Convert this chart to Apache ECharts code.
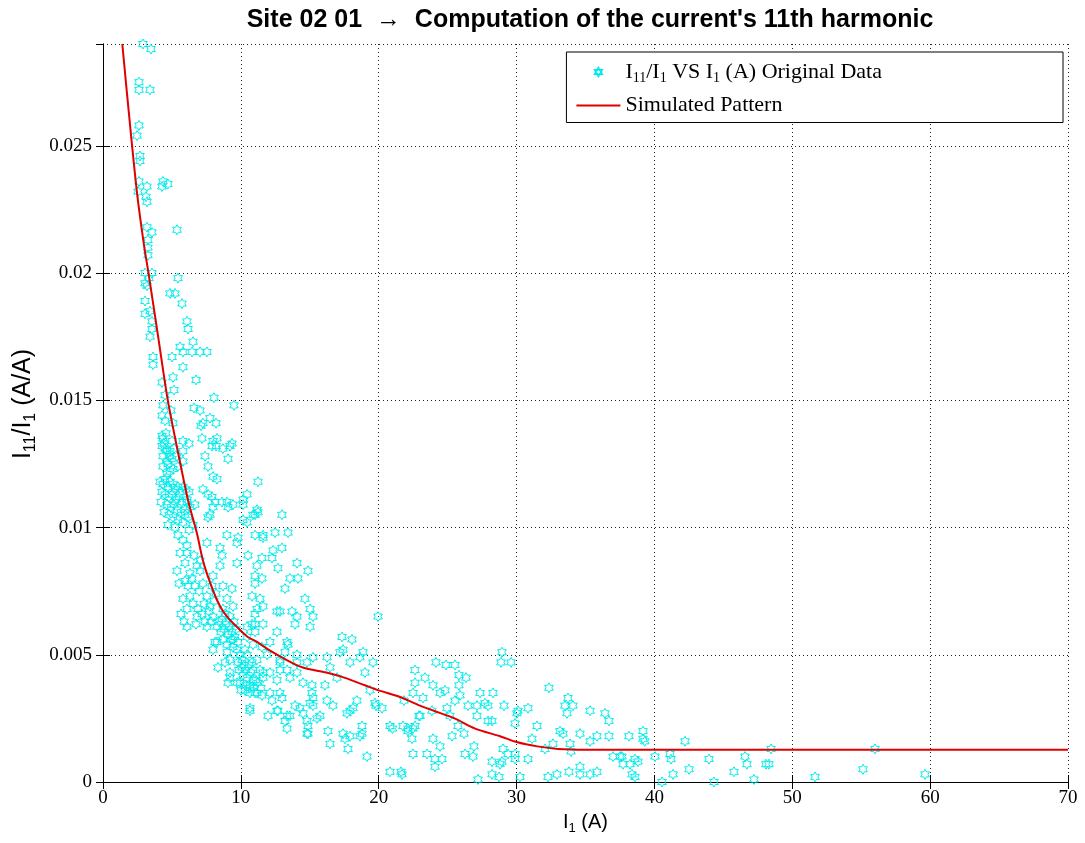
<!DOCTYPE html>
<html><head><meta charset="utf-8">
<script src="https://cdn.jsdelivr.net/npm/echarts@6/dist/echarts.min.js"></script>
<style>html,body{margin:0;padding:0;background:#fff}#chart{width:1085px;height:843px}</style>
</head><body><div id="chart"></div>
<script>
const titleText = 'Site 02 01  \u2192  Computation of the current\'s 11th harmonic';
const seriesOriginal = 'I11/I1 VS I1 (A) Original Data';
const seriesSimulated = 'Simulated Pattern';
const xMin = 0, xMax = 70, xStep = 10;
const yMin = 0, yMax = 0.029, yStep = 0.005;

// Original data: [I1 (A), I11/I1]
const originalData = [
[2.90,0.0290],[3.48,0.0288],[2.61,0.0275],[2.61,0.0272],[3.41,0.0272],[2.61,0.0258],[2.47,0.0254],[2.68,0.0246],[2.68,0.0244],[2.61,0.0236],[3.19,0.0234],[2.54,0.0232],[4.35,0.0236],[4.71,0.0235],[4.28,0.0234],[3.12,0.0230],[3.19,0.0228],[3.19,0.0218],[3.55,0.0216],[5.37,0.0217],[3.26,0.0213],[3.26,0.0210],[3.26,0.0207],[3.05,0.0200],[3.55,0.0200],[5.44,0.0198],[3.19,0.0195],
[3.05,0.0196],[3.34,0.0198],[4.86,0.0192],[5.22,0.0192],[3.05,0.0189],[3.05,0.0184],[3.41,0.0185],[5.73,0.0188],[3.55,0.0181],[3.55,0.0178],[6.09,0.0181],[6.17,0.0178],[3.41,0.0175],[6.53,0.0173],[5.59,0.0171],[5.80,0.0169],[6.46,0.0169],[7.04,0.0169],[7.54,0.0169],[3.63,0.0167],[5.01,0.0167],[3.63,0.0164],[5.80,0.0163],[5.08,0.0159],[6.75,0.0158],[4.28,0.0157],[5.15,0.0154],[4.50,0.0152],[8.05,0.0151],[4.35,0.0148],[4.93,0.0146],[6.60,0.0147],[7.04,0.0146],[9.50,0.0148],[4.28,0.0144],[4.50,0.0142],[5.08,0.0141],[7.76,0.0143],[8.20,0.0141],[7.11,0.0140],[7.25,0.0141],[4.28,0.0136],[4.35,0.0135],[4.28,0.0132],[4.50,0.0131],[4.64,0.0130],[5.80,0.0134],[6.24,0.0133],[7.18,0.0135],[7.98,0.0134],[8.27,0.0135],[7.91,0.0132],[8.20,0.0132],[8.70,0.0131],[9.21,0.0132],[9.36,0.0133],[9.07,0.0127],[7.40,0.0128],[7.62,0.0124],[7.98,0.0120],[8.27,0.0119],[4.35,0.0128],[4.64,0.0126],[4.71,0.0125],[4.86,0.0130],[5.01,0.0127],[5.37,0.0128],[5.80,0.0126],[5.44,0.0124],[4.35,0.0124],[4.64,0.0121],[5.08,0.0123],[5.80,0.0130],[11.24,0.0118],[7.25,0.0115],[7.62,0.0113],[7.91,0.0112],[8.12,0.0110],[8.63,0.0110],[8.99,0.0110],[9.43,0.0109],[9.07,0.0108],[10.45,0.0113],[10.16,0.0111],[11.17,0.0107],[10.88,0.0105],[7.62,0.0104],[6.67,0.0109],[10.16,0.0103],[10.45,0.0102],
[4.43,0.0133],[4.79,0.0128],[5.15,0.0131],[4.57,0.0137],[5.01,0.0134],[4.86,0.0122],
[4.13,0.0118],[4.35,0.0117],[4.50,0.0119],[4.71,0.0116],[4.86,0.0118],[5.08,0.0117],[5.22,0.0115],[5.44,0.0116],[5.59,0.0114],[5.80,0.0116],[6.02,0.0115],[6.24,0.0114],[4.28,0.0114],[4.50,0.0113],[4.79,0.0112],[5.01,0.0113],[5.30,0.0111],[5.52,0.0112],[5.73,0.0110],[6.09,0.0111],[4.21,0.0110],[4.64,0.0109],[4.93,0.0108],[5.15,0.0109],[5.37,0.0107],[5.66,0.0106],[5.95,0.0107],[6.31,0.0108],[4.43,0.0106],[4.79,0.0105],[5.08,0.0104],[5.44,0.0103],[5.80,0.0102],[6.17,0.0104],[4.71,0.0101],[5.22,0.0100],[6.53,0.0101],[6.24,0.0099],
[5.95,0.0105],[6.09,0.0110],[7.98,0.0108],[10.16,0.0109],[11.03,0.0105],[11.24,0.0106],[12.98,0.0105],[7.76,0.0105],
[8.99,0.0097],[9.79,0.0096],[11.03,0.0097],[11.61,0.0097],[12.48,0.0098],[13.42,0.0098],[11.61,0.0096],
[6.09,0.0093],[7.54,0.0094],[8.49,0.0092],[9.72,0.0094],[10.52,0.0089],[11.53,0.0088],[12.33,0.0091],[12.98,0.0092],[12.26,0.0088],[14.07,0.0086],[14.87,0.0083],[12.69,0.0084],[11.17,0.0085],[8.63,0.0089],[8.49,0.0085],[9.72,0.0086],
[6.09,0.0090],[6.31,0.0082],[6.17,0.0077],[6.31,0.0073],[6.09,0.0068],[6.09,0.0061],[6.82,0.0065],[7.04,0.0087],[7.04,0.0083],[7.25,0.0078],[7.54,0.0073],[7.76,0.0069],[7.98,0.0065],[8.27,0.0061],[7.54,0.0061],[7.98,0.0081],[8.70,0.0077],[9.36,0.0076],[8.99,0.0072],[9.43,0.0069],
[8.70,0.0068],[8.85,0.0066],[8.63,0.0064],[8.92,0.0062],[8.77,0.0060],[9.07,0.0058],[8.70,0.0056],[8.99,0.0054],[9.21,0.0065],[9.14,0.0061],[9.36,0.0059],[9.28,0.0056],[9.50,0.0063],[9.57,0.0057],[9.43,0.0053],[9.65,0.0060],[9.79,0.0055],[8.56,0.0059],[8.41,0.0063],[9.00,0.0051],
[9.43,0.0056],[9.72,0.0052],[8.27,0.0055],[7.98,0.0052],[8.34,0.0045],[9.21,0.0048],[9.21,0.0043],[9.07,0.0039],
[11.03,0.0081],[11.03,0.0078],[11.53,0.0080],[10.81,0.0073],[11.39,0.0072],[11.61,0.0069],[11.17,0.0068],[11.03,0.0066],[12.62,0.0067],[12.84,0.0067],[10.45,0.0061],[11.03,0.0062],[10.45,0.0057],[10.30,0.0052],[10.88,0.0054],[11.53,0.0053],[11.90,0.0050],[12.62,0.0059],[13.35,0.0055],[13.56,0.0080],[14.14,0.0080],[13.20,0.0076],[14.65,0.0072],[13.71,0.0067],[14.07,0.0065],[13.93,0.0062],[15.02,0.0068],[15.23,0.0065],[15.02,0.0061],[19.95,0.0065],
[10.45,0.0050],[10.81,0.0047],[11.17,0.0048],[11.39,0.0044],[11.61,0.0041],[12.11,0.0043],[12.84,0.0048],[12.84,0.0044],[12.62,0.0040],[13.35,0.0044],[13.56,0.0041],[14.07,0.0047],[14.07,0.0043],[10.08,0.0045],[9.94,0.0039],[10.30,0.0036],[10.66,0.0038],[11.03,0.0035],[10.66,0.0028],[11.97,0.0026],[12.62,0.0028],[12.11,0.0035],[12.84,0.0035],[13.35,0.0026],[13.56,0.0026],[13.35,0.0021],[13.93,0.0030],[14.51,0.0027],[14.80,0.0024],[14.87,0.0019],[15.16,0.0035],[16.10,0.0038],[15.16,0.0038],[15.02,0.0031],[15.23,0.0033],[15.52,0.0025],[15.74,0.0026],[16.25,0.0032],[16.68,0.0030],[16.97,0.0041],[17.70,0.0027],[17.92,0.0028],[18.13,0.0029],[18.42,0.0032],[16.32,0.0020],[16.47,0.0015],[17.41,0.0019],[17.55,0.0017],[17.77,0.0013],[17.92,0.0018],[18.79,0.0022],[18.79,0.0019],[18.64,0.0018],[19.15,0.0010],
[14.07,0.0050],[14.80,0.0047],[15.23,0.0049],[16.25,0.0049],[16.47,0.0045],[17.19,0.0051],[17.41,0.0052],[17.34,0.0057],[18.06,0.0056],[17.92,0.0047],[18.86,0.0051],[18.64,0.0049],[19.00,0.0043],[19.59,0.0047],[19.37,0.0036],[19.73,0.0031],[19.80,0.0030],[20.24,0.0029],[20.82,0.0022],[21.00,0.0021],[21.76,0.0022],[22.12,0.0021],[22.49,0.0021],[22.41,0.0017],[22.49,0.0011],[23.50,0.0011],[22.63,0.0044],[22.63,0.0039],[22.49,0.0035],[23.36,0.0041],[23.21,0.0033],[23.00,0.0026],[20.82,0.0004],[21.69,0.0003],
[8.12,0.0055],[8.85,0.0047],[9.21,0.0041],[9.72,0.0039],[10.88,0.0044],[11.61,0.0043],[10.66,0.0035],[11.17,0.0035],[11.53,0.0034],[12.98,0.0033],[10.66,0.0029],[12.69,0.0028],[13.20,0.0024],[14.29,0.0029],[15.23,0.0030],[14.87,0.0022],[14.80,0.0019],[14.51,0.0039],[12.26,0.0032],[10.81,0.0062],[11.03,0.0059],[11.61,0.0062],[12.11,0.0055],[13.42,0.0054],[13.20,0.0051],[12.84,0.0047],
[9.94,0.0050],[10.08,0.0048],[10.23,0.0046],[9.86,0.0044],[10.16,0.0042],[10.45,0.0041],[10.30,0.0044],[10.59,0.0046],[10.73,0.0043],[10.88,0.0040],[10.37,0.0038],[10.66,0.0037],[10.95,0.0037],[10.01,0.0036],[11.24,0.0039],[11.46,0.0037],[11.10,0.0040],[9.79,0.0047],
[5.44,0.0097],[5.80,0.0095],[5.59,0.0090],[5.95,0.0086],[6.60,0.0089],[6.82,0.0085],[6.46,0.0080],[6.67,0.0077],[6.97,0.0075],[6.53,0.0070],[6.89,0.0068],[7.18,0.0066],[7.33,0.0070],[7.40,0.0063],[7.69,0.0067],[7.83,0.0063],[6.75,0.0062],[5.88,0.0063],[5.66,0.0066],[5.80,0.0072],[5.52,0.0078],[5.37,0.0083],[5.95,0.0079],[8.05,0.0071],[7.91,0.0077],[8.20,0.0074],
[28.94,0.0051],[28.87,0.0047],[29.60,0.0047],[24.15,0.0047],[24.88,0.0046],[25.53,0.0046],[23.94,0.0038],[24.45,0.0035],[24.81,0.0036],[25.82,0.0042],[26.33,0.0041],[25.82,0.0038],[25.53,0.0032],[25.90,0.0034],[27.35,0.0035],[28.29,0.0035],[21.83,0.0032],[27.13,0.0030],[27.71,0.0031],[27.93,0.0030],[29.09,0.0030],[24.95,0.0029],[23.86,0.0028],[22.92,0.0026],[25.17,0.0026],[27.13,0.0026],[26.48,0.0030],[25.75,0.0022],[27.93,0.0024],[28.22,0.0024],[22.12,0.0020],[22.63,0.0022],[26.19,0.0019],[25.32,0.0018],[23.94,0.0017],[26.91,0.0014],[24.45,0.0014],[29.02,0.0013],[29.38,0.0011],[29.89,0.0011],[29.89,0.0023],[30.10,0.0028],[30.03,0.0027],[30.83,0.0029],[24.08,0.0009],[24.59,0.0009],[24.08,0.0006],[26.26,0.0011],[26.84,0.0010],[28.22,0.0008],[28.94,0.0008],[28.80,0.0007],[29.89,0.0009],[21.62,0.0004],[27.20,0.0001],[28.22,0.0003],[28.73,0.0002],[30.25,0.0002],
[32.35,0.0037],[33.73,0.0033],[33.51,0.0030],[34.09,0.0030],[33.66,0.0027],[31.48,0.0022],[33.15,0.0020],[33.37,0.0019],[31.12,0.0017],[32.64,0.0015],[33.88,0.0015],[33.95,0.0012],[32.06,0.0013],[34.60,0.0019],[35.33,0.0028],[35.83,0.0018],[35.33,0.0016],[36.41,0.0027],[36.70,0.0024],[36.70,0.0018],[38.15,0.0018],[39.17,0.0020],[39.17,0.0017],[39.30,0.0016],[37.00,0.0010],[37.50,0.0010],[37.65,0.0010],[37.72,0.0007],[38.23,0.0007],[38.59,0.0009],[38.81,0.0008],[38.37,0.0003],[38.59,0.0002],[40.04,0.0010],[41.13,0.0011],[41.20,0.0009],[42.22,0.0016],[42.51,0.0005],[41.35,0.0003],[40.55,0.0000],[30.83,0.0009],[32.28,0.0002],[32.93,0.0003],[33.80,0.0004],[34.60,0.0006],[34.60,0.0003],[35.33,0.0003],[35.83,0.0004],
[43.96,0.0009],[44.32,0.0000],[45.77,0.0004],[46.57,0.0010],[46.71,0.0007],[47.22,0.0001],[48.09,0.0007],[48.31,0.0007],[48.46,0.0013],[51.65,0.0002],[55.13,0.0005],[56.00,0.0013],[59.63,0.0003]
];

// Simulated pattern
const curveI1 =    [1.4, 2.0, 2.5, 3.0, 3.3, 4.0, 4.7, 5.5, 6.2, 6.8, 7.3, 8.0, 8.5, 9.0, 9.7, 10.5, 11.2, 12.0, 13.3, 14.5, 16.2, 17.5, 19.0, 20.0, 21.5, 23.0, 24.0, 25.5, 27.0, 28.8, 30.0, 31.5, 33.0, 35.0, 40.0, 50.0, 60.0, 70.0];
const curveRatio = [0.0290, 0.0256, 0.0230, 0.0210, 0.0200, 0.0175, 0.0150, 0.0128, 0.0110, 0.0098, 0.0086, 0.0075, 0.0069, 0.0065, 0.0061, 0.0057, 0.0055, 0.0052, 0.0048, 0.0045, 0.0043, 0.0041, 0.0038, 0.0036, 0.00335, 0.0030, 0.0028, 0.0025, 0.0021, 0.0018, 0.00157, 0.0014, 0.0013, 0.00127, 0.00127, 0.00127, 0.00127, 0.00127];

const HEXAGRAM = 'path://M100 0 L128.87 50 L186.6 50 L157.7 100 L186.6 150 L128.87 150 L100 200 L71.13 150 L13.4 150 L42.3 100 L13.4 50 L71.13 50 Z';
const CYAN = '#00ecec';
const RED = '#e00000';
const serif = 'Liberation Serif';
const sans = 'Liberation Sans';

const chart = echarts.init(document.getElementById('chart'), null, {renderer: 'canvas'});
const gridLine = {show: true, lineStyle: {color: '#222', type: [1, 3], width: 1}};
const tickIn = {show: true, inside: true, length: 7, lineStyle: {color: '#000'}};
const axisLine = {show: true, lineStyle: {color: '#000', width: 1}};

chart.setOption({
  animation: false,
  backgroundColor: '#fff',
  title: {
    text: titleText, left: 585, top: 3, textAlign: 'center',
    textStyle: {fontFamily: sans, fontWeight: 'bold', fontSize: 25, color: '#000'}
  },
  grid: {left: 103, right: 17, top: 44, bottom: 61, containLabel: false},
  legend: {
    orient: 'vertical', right: 22, top: 52,
    padding: [9, 181, 6, 9], itemGap: 9, itemWidth: 44, itemHeight: 8,
    backgroundColor: '#fff', borderColor: '#000', borderWidth: 1, borderRadius: 0,
    data: [{name: seriesOriginal}, {name: seriesSimulated, itemStyle: {opacity: 0}}],
    formatter: function (name) {
      if (name === seriesOriginal) return '{n|I}{s|11}{n|/I}{s|1}{n| VS I}{s|1}{n| (A) Original Data}';
      return '{n|' + name + '}';
    },
    textStyle: {
      fontFamily: serif, fontSize: 22, color: '#000',
      rich: {
        n: {fontFamily: serif, fontSize: 22, color: '#000'},
        s: {fontFamily: serif, fontSize: 14, color: '#000', padding: [13, 0, 0, 0]}
      }
    }
  },
  xAxis: [{
    type: 'value', min: xMin, max: xMax, interval: xStep,
    axisLine: axisLine, axisTick: tickIn, splitLine: gridLine,
    axisLabel: {fontFamily: serif, fontSize: 19, color: '#000', margin: 7},
    name: '{n|I}{s|1}{n| (A)}', nameLocation: 'middle', nameGap: 27,
    nameTextStyle: {rich: {
      n: {fontFamily: sans, fontSize: 20, color: '#000'},
      s: {fontFamily: sans, fontSize: 13, color: '#000', padding: [12, 0, 0, 0]}
    }}
  }, {
    type: 'value', position: 'top', min: xMin, max: xMax, interval: xStep,
    axisLine: axisLine, axisTick: tickIn, splitLine: {show: false}, axisLabel: {show: false}
  }],
  yAxis: [{
    type: 'value', min: yMin, max: yMax, interval: yStep,
    axisLine: axisLine, axisTick: tickIn, splitLine: gridLine,
    axisLabel: {fontFamily: serif, fontSize: 19, color: '#000', margin: 11, showMaxLabel: false},
    name: '{n|I}{s|11}{n|/I}{s|1}{n| (A/A)}', nameLocation: 'middle', nameGap: 59, nameRotate: 90,
    nameTextStyle: {padding: [0, 0, 0, 18], rich: {
      n: {fontFamily: sans, fontSize: 25, color: '#000'},
      s: {fontFamily: sans, fontSize: 16, color: '#000', padding: [15, 0, 0, 0]}
    }}
  }, {
    type: 'value', position: 'right', min: yMin, max: yMax, interval: yStep,
    axisLine: axisLine, axisTick: tickIn, splitLine: {show: false}, axisLabel: {show: false}
  }],
  series: [{
    name: seriesOriginal, type: 'scatter', xAxisIndex: 0, yAxisIndex: 0,
    data: originalData, symbol: HEXAGRAM, symbolSize: 10, symbolKeepAspect: true,
    itemStyle: {color: 'rgba(0,0,0,0)', borderColor: CYAN, borderWidth: 1, opacity: 1},
    emphasis: {disabled: true}, z: 2
  }, {
    name: seriesSimulated, type: 'line', xAxisIndex: 0, yAxisIndex: 0,
    data: curveI1.map(function (x, i) { return [x, curveRatio[i]]; }),
    symbol: 'none', smooth: 0.3, lineStyle: {color: RED, width: 2}, itemStyle: {color: RED},
    emphasis: {disabled: true}, z: 3
  }]
});
</script></body></html>
